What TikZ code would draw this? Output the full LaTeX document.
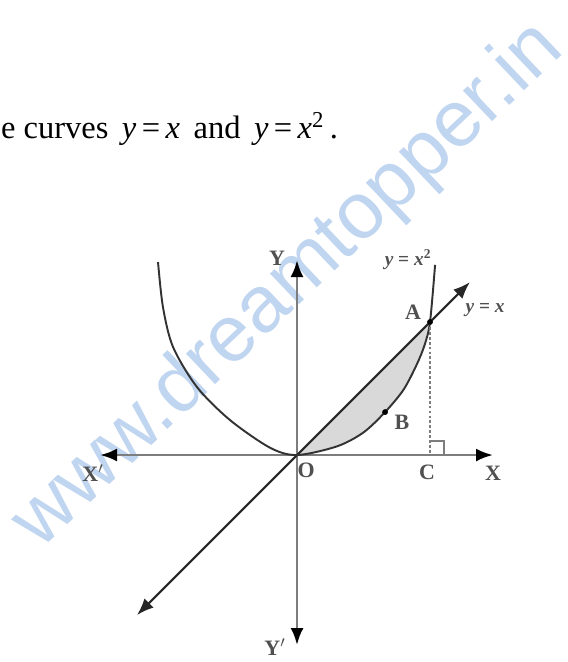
\documentclass[tikz,border=0pt]{standalone}
\usepackage{fontspec}
\setmainfont{Liberation Serif}
\newfontfamily\wmfont{Liberation Sans}
\usetikzlibrary{arrows.meta}
\definecolor{wmblue}{RGB}{192,213,240}
\definecolor{axisgray}{RGB}{125,125,125}
\definecolor{lblgray}{RGB}{80,80,80}

\begin{document}
\begin{tikzpicture}[x=2.66cm, y=2.66cm,
  axis/.style={axisgray, line width=1.6pt, {Latex[color=black,length=3.4mm,width=2.6mm]}-{Latex[color=black,length=3.4mm,width=2.6mm]}},
  diag/.style={black!85, line width=1.2pt, {Latex[length=3.4mm,width=2.6mm]}-{Latex[length=3.4mm,width=2.6mm]}},
  curve/.style={black!80, line width=1.1pt},
  lbl/.style={text=lblgray, font=\bfseries\fontsize{12.5}{13}\selectfont, inner sep=0pt},
  eqlbl/.style={text=lblgray, font=\bfseries\fontsize{11}{12}\selectfont, inner sep=0pt},
  wm/.style={text=wmblue, font=\wmfont\fontsize{45.5}{50}\selectfont, inner sep=0pt}]

\useasboundingbox (-2.233,-1.556) rectangle (2.030,3.421);

% watermark
\node[wm, rotate=43.5, anchor=base west] (wmark) at (-1.93,-0.72) {www.dreamtopper.in};

% heading line
\node[anchor=base west, inner sep=0pt, font=\fontsize{18.5}{20}\selectfont] (title) at (-2.228,2.376)
  {e curves \,\textit{y}\,=\,\textit{x}\, and \,\textit{y}\,=\,\textit{x}\textsuperscript{2}\,.};

% points
\coordinate (O) at (0,0);
\coordinate (A) at (1,1);
\coordinate (C) at (1,0);
\coordinate (B) at (0.662,0.323);
\coordinate (xl) at (-1.481,0);
\coordinate (xr) at (1.474,0);
\coordinate (yt) at (0,1.466);
\coordinate (yb) at (0,-1.429);
\coordinate (dl) at (-1.203,-1.203);
\coordinate (ur) at (1.30,1.30);

% shaded area between the line and the curve
\fill[gray!30] (O) -- (A) -- plot[smooth] coordinates {(1,1) (0.96,0.83) (0.9,0.68) (0.8,0.49) (0.662,0.323) (0.5,0.17) (0.3,0.065) (0,0)} -- cycle;

% axes
\draw[axis] (xl) -- (xr);
\draw[axis] (yb) -- (yt);

% y = x
\draw[diag] (dl) -- (ur);

% y = x^2
\draw[curve] plot[smooth] coordinates {(-1.045,1.451) (-1.008,1.113) (-0.932,0.812) (-0.752,0.511) (-0.504,0.263) (-0.203,0.055) (0,0) (0.3,0.065) (0.5,0.17) (0.662,0.323) (0.8,0.49) (0.9,0.68) (0.96,0.83) (1,1) (1.038,1.43)};

% ordinate at A
\draw[axisgray, line width=1.1pt, dash pattern=on 1.6pt off 1.2pt] (A) -- (C);
\draw[axisgray, line width=0.8pt] (C) ++(0,0.105) -- ++(0.105,0) -- ++(0,-0.105);

% points on the curve
\fill[black] (A) circle (0.022);
\fill[black] (B) circle (0.022);

% labels
\node[lbl] (labX) at (1.474,-0.135) {X};
\node[lbl] (labXp) at (-1.534,-0.135) {X$'$};
\node[lbl] (labY) at (-0.15,1.481) {Y};
\node[lbl] (labYp) at (-0.165,-1.444) {Y$'$};
\node[lbl] (labO) at (0.068,-0.113) {O};
\node[lbl] (labC) at (0.977,-0.128) {C};
\node[lbl] (labA) at (0.872,1.075) {A};
\node[lbl] (labB) at (0.789,0.248) {B};
\node[eqlbl] (eq2) at (0.835,1.466) {\textit{y} = \textit{x}\textsuperscript{2}};
\node[eqlbl] (eq1) at (1.414,1.09) {\textit{y} = \textit{x}};

\end{tikzpicture}
\end{document}
